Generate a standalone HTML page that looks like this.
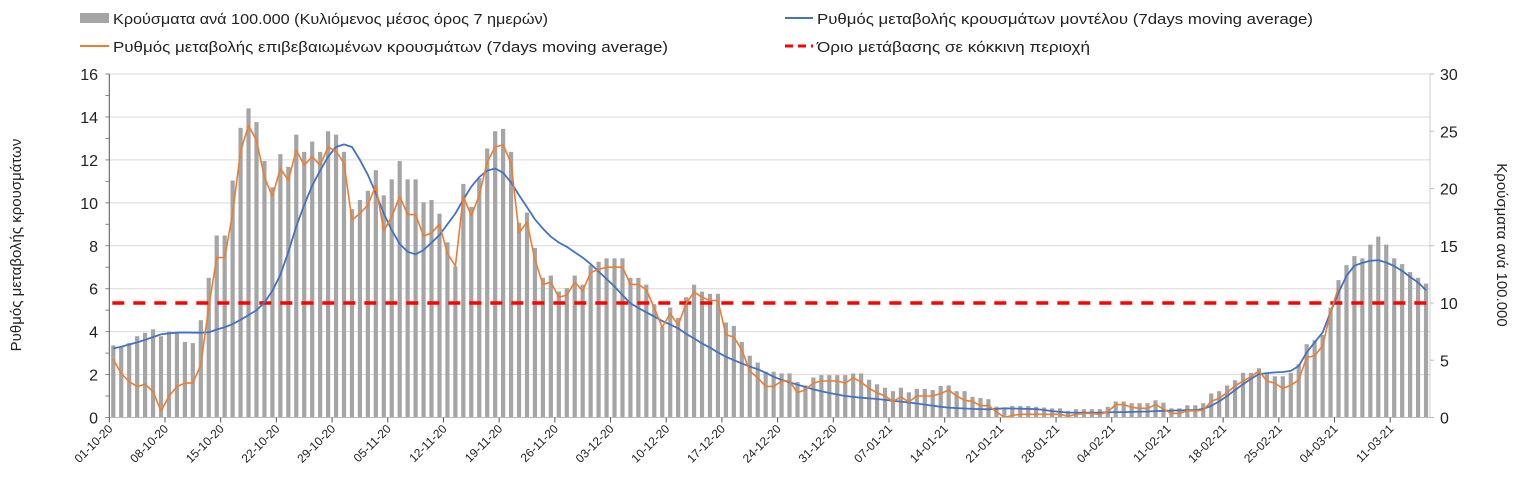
<!DOCTYPE html>
<html><head><meta charset="utf-8"><style>
html,body{margin:0;padding:0;background:#fff;}
svg{display:block;font-family:"Liberation Sans",sans-serif;}
</style></head><body>
<svg id="chart" width="1521" height="499" viewBox="0 0 1521 499" xmlns="http://www.w3.org/2000/svg">
<g id="legend">
 <g>
  <rect x="80" y="13" width="29" height="10" fill="#a5a5a5"/>
  <text x="113" y="24" font-size="15" textLength="435" lengthAdjust="spacingAndGlyphs" fill="#222">Κρούσματα ανά 100.000 (Κυλιόμενος μέσος όρος 7 ημερών)</text>
 </g>
 <g>
  <line x1="80" y1="46" x2="109" y2="46" stroke="#ed7d31" stroke-width="2"/>
  <text x="113" y="52" font-size="15" textLength="555" lengthAdjust="spacingAndGlyphs" fill="#222">Ρυθμός μεταβολής επιβεβαιωμένων κρουσμάτων (7days moving average)</text>
 </g>
 <g>
  <line x1="785" y1="18" x2="813" y2="18" stroke="#4472c4" stroke-width="2"/>
  <text x="817" y="24" font-size="15" textLength="496" lengthAdjust="spacingAndGlyphs" fill="#222">Ρυθμός μεταβολής κρουσμάτων μοντέλου (7days moving average)</text>
 </g>
 <g>
  <line x1="785" y1="46" x2="813" y2="46" stroke="#ff0000" stroke-width="3" stroke-dasharray="8,5"/>
  <text x="817" y="52" font-size="15" textLength="273" lengthAdjust="spacingAndGlyphs" fill="#222">Όριο μετάβασης σε κόκκινη περιοχή</text>
 </g>
</g>
<text transform="translate(21,245) rotate(-90)" text-anchor="middle" font-size="15" fill="#222">Ρυθμός μεταβολής κρουσμάτων</text>
<text transform="translate(1497,245) rotate(90)" text-anchor="middle" font-size="15" fill="#222">Κρούσματα ανά 100.000</text>
<g id="grid"></g><g id="bars"></g><g id="lines"></g><g id="axes"></g>
</svg>
<script>
const cases = [6.3,6.2,6.5,7.1,7.4,7.7,7.1,7.5,7.4,6.6,6.5,
8.5,12.2,15.9,15.9,20.7,25.3,27.0,25.8,22.4,20.1,
23.0,21.9,24.7,23.2,24.1,23.2,25.0,24.7,23.2,18.2,
19.0,19.8,21.6,19.4,20.8,22.4,20.8,20.8,18.8,19.0,
17.8,15.3,13.2,20.4,18.4,20.9,23.5,25.0,25.2,23.2,
17.0,17.9,14.8,12.2,12.4,11.0,11.3,12.4,11.6,13.3,
13.6,13.9,13.9,13.9,12.2,12.2,11.6,9.9,7.9,9.6,
8.7,10.5,11.6,11.0,10.8,10.8,8.3,8.0,6.6,5.4,
4.8,4.0,4.0,3.85,3.85,3.1,2.8,3.5,3.7,3.7,
3.7,3.7,3.85,3.85,3.3,2.9,2.6,2.3,2.6,2.2,
2.5,2.5,2.4,2.75,2.8,2.3,2.3,1.8,1.7,1.6,
0.95,0.73,1.0,1.0,1.0,0.93,0.87,0.8,0.8,0.58,
0.73,0.73,0.73,0.73,0.93,1.4,1.4,1.25,1.25,1.25,
1.5,1.3,0.8,0.8,1.07,1.07,1.25,2.1,2.3,2.8,
3.25,3.9,3.9,4.3,3.9,3.6,3.6,3.9,4.65,6.4,
6.75,7.2,9.6,12.0,13.3,14.1,13.9,15.1,15.8,15.1,
13.9,13.4,12.7,12.2,11.7];
const modelRate = [3.22,3.3,3.4,3.5,3.62,3.75,3.87,3.92,3.95,3.96,3.95,
3.95,3.97,4.1,4.2,4.35,4.55,4.77,5.0,5.35,5.9,
6.65,7.7,8.9,9.9,10.8,11.5,12.15,12.6,12.72,12.6,
12.0,11.3,10.45,9.5,8.73,8.08,7.72,7.6,7.8,8.14,
8.5,9.0,9.5,10.15,10.75,11.2,11.5,11.6,11.4,10.95,
10.36,9.8,9.23,8.8,8.42,8.15,7.95,7.7,7.45,7.15,
6.8,6.45,6.1,5.7,5.32,5.1,4.9,4.7,4.5,4.33,
4.15,3.9,3.68,3.45,3.25,3.03,2.83,2.67,2.52,2.37,
2.25,2.08,1.9,1.75,1.64,1.53,1.42,1.31,1.22,1.14,
1.07,1.0,0.96,0.92,0.89,0.86,0.82,0.78,0.74,0.7,
0.65,0.6,0.55,0.5,0.46,0.44,0.42,0.4,0.39,0.38,
0.4,0.43,0.42,0.41,0.4,0.39,0.35,0.3,0.26,0.23,
0.23,0.23,0.23,0.23,0.24,0.25,0.25,0.26,0.27,0.28,
0.3,0.31,0.32,0.33,0.34,0.34,0.4,0.54,0.75,1.0,
1.28,1.55,1.8,2.02,2.07,2.1,2.12,2.17,2.4,3.03,
3.5,3.96,4.9,5.82,6.6,7.07,7.2,7.3,7.33,7.22,
7.05,6.83,6.55,6.29,5.93];
const confirmedRate = [2.7,2.05,1.67,1.44,1.55,1.2,0.3,1.0,1.44,1.6,1.6,
2.45,5.15,7.45,7.45,9.5,12.4,13.6,12.9,11.2,10.3,
11.6,11.05,12.45,11.75,12.15,11.75,12.6,12.4,11.85,9.2,
9.5,9.9,10.8,8.7,9.35,10.3,9.45,9.45,8.45,8.6,
9.0,7.65,7.05,10.3,9.4,10.35,11.9,12.6,12.7,11.85,
8.6,9.1,7.35,6.2,6.3,5.6,5.7,6.3,5.9,6.75,
6.9,7.0,7.0,7.0,6.2,6.2,5.95,5.1,4.2,4.85,
4.3,5.3,5.85,5.6,5.45,5.45,3.85,3.75,3.15,2.15,
1.85,1.45,1.45,1.7,1.7,1.15,1.3,1.6,1.7,1.7,
1.7,1.6,1.85,1.65,1.35,1.15,1.0,0.75,0.95,0.72,
1.0,1.0,1.0,1.12,1.28,1.0,0.8,0.75,0.55,0.55,
0.27,0.0,0.1,0.15,0.15,0.15,0.15,0.15,0.15,0.05,
0.15,0.19,0.19,0.15,0.26,0.6,0.6,0.47,0.43,0.43,
0.6,0.39,0.19,0.19,0.31,0.31,0.34,0.75,0.9,1.16,
1.47,1.7,1.9,2.17,1.7,1.6,1.35,1.5,1.75,2.8,
2.87,3.34,4.9,6.05];
const threshold = [5.333];
const dateLabels = ["01-10-20","08-10-20","15-10-20","22-10-20","29-10-20","05-11-20","12-11-20","19-11-20","26-11-20","03-12-20","10-12-20","17-12-20","24-12-20","31-12-20","07-01-21","14-01-21","21-01-21","28-01-21","04-02-21","11-02-21","18-02-21","25-02-21","04-03-21","11-03-21"];
const leftTicks = [0,2,4,6,8,10,12,14,16];
const rightTicks = [0,5,10,15,20,25,30];

const NS="http://www.w3.org/2000/svg";
const X0=109.3, X1=1430, Y0=417.5, Y1=74;
const N=cases.length;
const step=(X1-X0)/N;
const xc=i=>X0+step*(i+0.5);
const xb=i=>X0+step*i;
const yL=v=>Y0-(v/16)*(Y0-Y1);
const yR=v=>Y0-(v/30)*(Y0-Y1);
function mk(tag,attrs,parent){const e=document.createElementNS(NS,tag);for(const k in attrs)e.setAttribute(k,attrs[k]);parent.appendChild(e);return e;}
const grid=document.getElementById('grid'),bars=document.getElementById('bars'),lines=document.getElementById('lines'),axes=document.getElementById('axes');

leftTicks.forEach(v=>{
  if(v>0){const g=mk('line',{x1:X0,x2:X1,y1:yL(v),y2:yL(v),stroke:'#d9d9d9','stroke-width':1},grid);
  
  }
  const t=mk('text',{x:98,y:yL(v)+6,'text-anchor':'end','font-size':16,fill:'#222'},axes);
  t.textContent=v;
  
  
});
for(let v=0;v<=16;v++){mk('line',{x1:X0-4,x2:X0,y1:yL(v),y2:yL(v),stroke:'#888','stroke-width':1},axes);}
rightTicks.forEach(v=>{
  const t=mk('text',{x:1440,y:yR(v)+6,'font-size':16,fill:'#222'},axes);
  t.textContent=v;
  
  
  mk('line',{x1:X1,x2:X1+4,y1:yR(v),y2:yR(v),stroke:'#bbb','stroke-width':1},axes);
});
mk('line',{x1:X0,x2:X0,y1:Y1,y2:Y0,stroke:'#555','stroke-width':1},axes);
mk('line',{x1:X1,x2:X1,y1:Y1,y2:Y0,stroke:'#ccc','stroke-width':1},axes);
mk('line',{x1:X0,x2:X1,y1:Y0,y2:Y0,stroke:'#bbb','stroke-width':1},axes);

cases.forEach((v,i)=>{
  const r=mk('rect',{x:xc(i)-2.1,y:yR(v),width:4.2,height:Y0-yR(v),fill:'#a5a5a5'},bars);
  
  
});
const thr=mk('line',{x1:X0+3,x2:X1-2,y1:yL(threshold[0]),y2:yL(threshold[0]),stroke:'#ff0000','stroke-width':3.5,'stroke-dasharray':'12,9'},lines);


const pm=modelRate.map((v,i)=>xc(i).toFixed(1)+','+yL(v).toFixed(1)).join(' ');
const lm=mk('polyline',{points:pm,fill:'none',stroke:'#4472c4','stroke-width':1.8,'stroke-linejoin':'round'},lines);


const pc=confirmedRate.map((v,i)=>xc(i).toFixed(1)+','+yL(v).toFixed(1)).join(' ');
const lc=mk('polyline',{points:pc,fill:'none',stroke:'#ed7d31','stroke-width':1.6,'stroke-linejoin':'round'},lines);



dateLabels.forEach((d,k)=>{
  const x=xb(k*7);
  mk('line',{x1:x,x2:x,y1:Y0,y2:Y0+5,stroke:'#555','stroke-width':1},axes);
  const t=mk('text',{transform:`translate(${x+4},${Y0+12}) rotate(-45)`,'text-anchor':'end','font-size':12,fill:'#222'},axes);
  t.textContent=d;
  
  
});
</script>
</body></html>
